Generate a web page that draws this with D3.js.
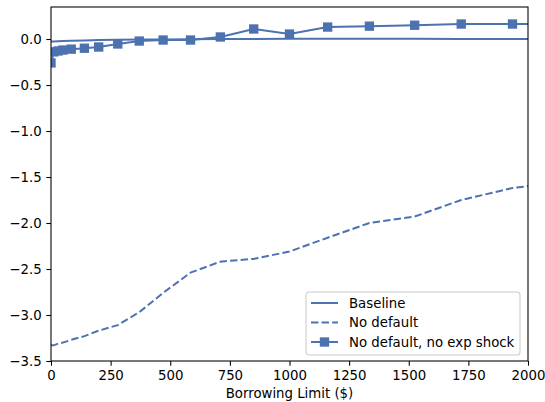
<!DOCTYPE html>
<html>
<head>
<meta charset="utf-8">
<script src="https://cdn.jsdelivr.net/npm/d3@7"></script>
<style>
  body { margin: 0; background: #fff; }
  svg { font-family: "DejaVu Sans", sans-serif; }
</style>
</head>
<body>
<div id="chart"></div>
<script>
// borrowing limit grid ($), shared by all three series
var limits = [0, 12, 30, 50, 85, 140, 200, 280, 370, 470, 585, 710, 850, 1000, 1160, 1335, 1525, 1720, 1935, 2150];

var baseline = [-0.028, -0.026, -0.024, -0.022, -0.019, -0.015, -0.012, -0.009, -0.006, -0.004, -0.002, 0.0, 0.001, 0.002, 0.002, 0.002, 0.002, 0.001, 0.0, 0.0];
var noDefault = [-3.33, -3.33, -3.31, -3.30, -3.27, -3.23, -3.17, -3.11, -2.97, -2.76, -2.54, -2.42, -2.39, -2.31, -2.16, -2.00, -1.93, -1.75, -1.62, -1.55];
var noShock = [-0.26, -0.14, -0.13, -0.12, -0.11, -0.10, -0.087, -0.054, -0.022, -0.011, -0.011, 0.022, 0.109, 0.054, 0.13, 0.14, 0.15, 0.163, 0.163, 0.165];

var xTicks = [0, 250, 500, 750, 1000, 1250, 1500, 1750, 2000];
var yTicks = [0.0, -0.5, -1.0, -1.5, -2.0, -2.5, -3.0, -3.5];
var seriesNames = ["Baseline", "No default", "No default, no exp shock"];

var svgWidth = 545, svgHeight = 402;
var margin = { top: 7, right: 17, bottom: 41, left: 51 };
var width = svgWidth - margin.left - margin.right;
var height = svgHeight - margin.top - margin.bottom;
var blue = "#4c72b0";
var fs = 13.3;
var dash = "7.4,3.2";

var svg = d3.select("#chart").append("svg")
  .attr("width", svgWidth)
  .attr("height", svgHeight);

svg.append("defs").append("clipPath").attr("id", "clip")
  .append("rect").attr("width", width).attr("height", height);

var chartGroup = svg.append("g")
  .attr("transform", `translate(${margin.left}, ${margin.top})`);

var x = d3.scaleLinear().domain([0, 2000]).range([0, width]);
var y = d3.scaleLinear().domain([-3.5, 0.348]).range([height, 0]);

var line = d3.line()
  .x((d, i) => x(limits[i]))
  .y(d => y(d));

var plot = chartGroup.append("g").attr("clip-path", "url(#clip)");

plot.append("path").datum(baseline)
  .attr("d", line).attr("fill", "none")
  .attr("stroke", blue).attr("stroke-width", 2);

plot.append("path").datum(noDefault)
  .attr("d", line).attr("fill", "none")
  .attr("stroke", blue).attr("stroke-width", 2)
  .attr("stroke-dasharray", dash);

plot.append("path").datum(noShock)
  .attr("d", line).attr("fill", "none")
  .attr("stroke", blue).attr("stroke-width", 2);

var sq = 8;
plot.selectAll("rect.mk").data(noShock).enter().append("rect")
  .attr("class", "mk")
  .attr("x", (d, i) => x(limits[i]) - sq / 2)
  .attr("y", d => y(d) - sq / 2)
  .attr("width", sq).attr("height", sq)
  .attr("fill", blue).attr("stroke", blue).attr("stroke-width", 1.33);

// axes
var xAxis = chartGroup.append("g")
  .attr("transform", `translate(0, ${height})`)
  .call(d3.axisBottom(x).tickValues(xTicks).tickSize(4.7).tickPadding(4.7).tickFormat(d3.format("d")));

var yAxis = chartGroup.append("g")
  .call(d3.axisLeft(y).tickValues(yTicks).tickSize(4.7).tickPadding(4.7)
    .tickFormat(d => d3.format(".1f")(d).replace("-", "\u2212")));

[xAxis, yAxis].forEach(function(a) {
  a.select(".domain").remove();
  a.selectAll("text").attr("font-size", fs).attr("fill", "#000")
    .attr("font-family", "DejaVu Sans, sans-serif");
  a.selectAll("line").attr("stroke", "#000").attr("stroke-width", 1.07);
});

// frame
chartGroup.append("rect")
  .attr("width", width).attr("height", height)
  .attr("fill", "none").attr("stroke", "#000").attr("stroke-width", 1.07);

chartGroup.append("text")
  .attr("x", width / 2).attr("y", height + 37)
  .attr("text-anchor", "middle").attr("font-size", fs)
  .text("Borrowing Limit ($)");

// legend
var legend = chartGroup.append("g")
  .attr("transform", `translate(${306 - margin.left}, ${292 - margin.top})`);

legend.append("rect")
  .attr("width", 214).attr("height", 63).attr("rx", 3)
  .attr("fill", "#fff").attr("fill-opacity", 0.8)
  .attr("stroke", "#ccc").attr("stroke-width", 1.07);

seriesNames.forEach(function(name, i) {
  var ly = 11 + i * 19.5;
  legend.append("line")
    .attr("x1", 5).attr("x2", 32).attr("y1", ly).attr("y2", ly)
    .attr("stroke", blue).attr("stroke-width", 2)
    .attr("stroke-dasharray", i === 1 ? dash : null);
  if (i === 2) {
    legend.append("rect")
      .attr("x", 18.5 - sq / 2).attr("y", ly - sq / 2)
      .attr("width", sq).attr("height", sq)
      .attr("fill", blue).attr("stroke", blue).attr("stroke-width", 1.33);
  }
  legend.append("text")
    .attr("x", 43).attr("y", ly + 4.8)
    .attr("font-size", fs).text(name);
});
</script>
</body>
</html>
